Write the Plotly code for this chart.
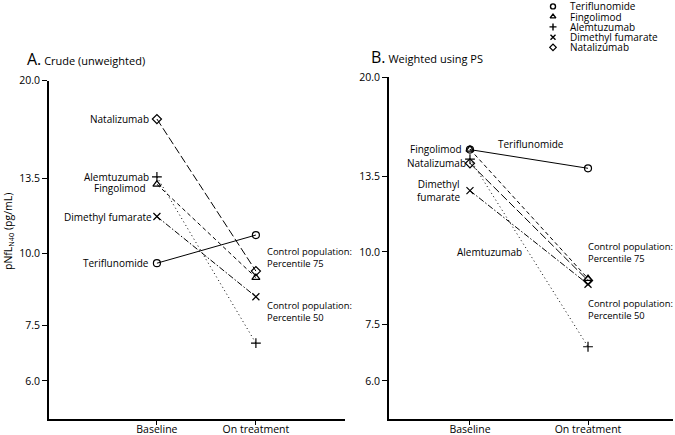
import math
import plotly.graph_objects as go

# ---------------- data ----------------
timepoints = ["Baseline", "On treatment"]
treatments = ["Teriflunomide", "Fingolimod", "Alemtuzumab", "Dimethyl fumarate", "Natalizumab"]

crude_baseline = [9.62, 13.2, 13.6, 11.6, 17.15]
crude_on_treatment = [10.77, 9.08, 6.98, 8.41, 9.32]

weighted_baseline = [15.0, 15.02, 14.45, 12.75, 14.21]
weighted_on_treatment = [13.93, 9.0, 6.87, 8.8, 8.93]

control_percentile_75 = 9.27
control_percentile_50 = 7.5

y_tick_values = [6.0, 7.5, 10.0, 13.5, 20.0]
y_tick_labels = ["6.0", "7.5", "10.0", "13.5", "20.0"]

# ---------------- style ----------------
W, H = 675, 435
FONT = "Open Sans"
symbols = ["circle-open", "triangle-up-open", "cross-thin-open", "x-thin-open", "diamond-open"]
dashes = ["solid", "4px,3px", "1px,3px", "6px,2px,1.5px,2px", "8px,3px"]


def fx(p):
    return p / W


def fy(p):
    return 1 - p / H


def lg(v):
    return math.log10(v)


fig = go.Figure()

panels = [
    dict(xa="x", ya="y", base=crude_baseline, ot=crude_on_treatment),
    dict(xa="x2", ya="y2", base=weighted_baseline, ot=weighted_on_treatment),
]
for p in panels:
    for i, name in enumerate(treatments):
        fig.add_trace(go.Scatter(
            x=timepoints, y=[p["base"][i], p["ot"][i]],
            xaxis=p["xa"], yaxis=p["ya"], name=name,
            mode="lines+markers",
            line=dict(color="black", width=1, dash=dashes[i]),
            marker=dict(symbol=symbols[i], size=7, color="black",
                        line=dict(width=1.2, color="black")),
            showlegend=False,
        ))

# legend as marker column on its own axis
fig.add_trace(go.Scatter(
    x=[0] * len(treatments), y=treatments, xaxis="x3", yaxis="y3",
    mode="markers",
    marker=dict(symbol=symbols, size=5, color="black", line=dict(width=1.4, color="black")),
    showlegend=False, hoverinfo="skip",
))

axis_common = dict(showline=True, linecolor="black", linewidth=1.8, ticks="outside",
                   tickwidth=1, tickcolor="black", showgrid=False, zeroline=False,
                   automargin=False,
                   tickfont=dict(family=FONT, size=10.5, color="black"))

fig.update_layout(
    width=W, height=H,
    margin=dict(l=0, r=0, t=0, b=0, pad=0, autoexpand=False),
    plot_bgcolor="white", paper_bgcolor="white",
    font=dict(family=FONT, size=10, color="black"),
    showlegend=False,
    xaxis=dict(domain=[fx(49), fx(345)], type="category", categoryarray=timepoints,
               range=[-1.09, 1.9], anchor="y", ticklen=4, ticklabelstandoff=-5,
               **axis_common),
    yaxis=dict(domain=[fy(419), fy(80.7)], type="log", range=[lg(5.15), lg(20)],
               tickvals=y_tick_values, ticktext=y_tick_labels, anchor="x", ticklen=5,
               **axis_common),
    xaxis2=dict(domain=[fx(389), fx(673)], type="category", categoryarray=timepoints,
                range=[-0.686, 1.72], anchor="y2", ticklen=4, ticklabelstandoff=-5,
                **axis_common),
    yaxis2=dict(domain=[fy(419), fy(77)], type="log", range=[lg(5.16), lg(20)],
                tickvals=y_tick_values, ticktext=y_tick_labels, anchor="x2", ticklen=5,
                **axis_common),
    xaxis3=dict(domain=[fx(549), fx(557)], range=[-1, 1], visible=False, anchor="y3",
                automargin=False),
    yaxis3=dict(domain=[fy(52.5), fy(1.3)], type="category", categoryarray=treatments,
                range=[len(treatments) - 0.5, -0.5], visible=False, anchor="x3",
                automargin=False),
)

shapes = []
for xa, ya, s_dot, e_dot, s_sol, e_sol in [("x", "y", 0.027, 0.905, 0.0, 0.902),
                                          ("x2", "y2", 0.021, 0.937, 0.0, 0.947)]:
    shapes.append(dict(type="line", xref=xa + " domain", yref=ya, x0=s_dot, x1=e_dot,
                       y0=lg(control_percentile_75), y1=lg(control_percentile_75),
                       line=dict(color="black", width=2.2, dash="2px,8px")))
    shapes.append(dict(type="line", xref=xa + " domain", yref=ya, x0=s_sol, x1=e_sol,
                       y0=lg(control_percentile_50), y1=lg(control_percentile_50),
                       line=dict(color="black", width=2)))
fig.update_layout(shapes=shapes)

ann = []
lab_font = dict(family=FONT, size=10, color="black")
ctl_font = dict(family=FONT, size=9.4, color="black")

# panel A point labels at baseline
offs_a = {"Teriflunomide": (-6, 0), "Fingolimod": (-9, -4), "Alemtuzumab": (-6, 0),
          "Dimethyl fumarate": (-3, 0), "Natalizumab": (-6, 0)}
for i, name in enumerate(treatments):
    dx, dy = offs_a[name]
    ann.append(dict(xref="x", yref="y", x=0, y=lg(crude_baseline[i]), text=name,
                    xanchor="right", yanchor="middle", xshift=dx, yshift=dy,
                    showarrow=False, font=lab_font))

# panel B point labels
offs_b = {"Fingolimod": (-6, 0), "Natalizumab": (-2, 0), "Dimethyl fumarate": (-7, 0)}
for i, name in enumerate(treatments):
    if name not in offs_b:
        continue
    dx, dy = offs_b[name]
    txt = "Dimethyl<br>fumarate" if name == "Dimethyl fumarate" else name
    ann.append(dict(xref="x2", yref="y2", x=0, y=lg(weighted_baseline[i]), text=txt,
                    xanchor="right", yanchor="middle", xshift=dx, yshift=dy, align="center",
                    showarrow=False, font=lab_font))
ann.append(dict(xref="paper", yref="paper", x=fx(531), y=fy(144), text="Teriflunomide",
                xanchor="center", yanchor="middle", showarrow=False, font=lab_font))
ann.append(dict(xref="paper", yref="paper", x=fx(489), y=fy(252), text="Alemtuzumab",
                xanchor="center", yanchor="middle", showarrow=False, font=lab_font))

# control population labels
for xa, ya, dx, dy75, dy50 in [("x", "y", 9, 15, 14), ("x2", "y2", -2, 18.5, 15)]:
    ann.append(dict(xref=xa, yref=ya, x=1, y=lg(control_percentile_75),
                    text="Control population:<br>Percentile 75", xanchor="left", yanchor="middle",
                    align="left", xshift=dx, yshift=dy75, showarrow=False, font=ctl_font))
    ann.append(dict(xref=xa, yref=ya, x=1, y=lg(control_percentile_50),
                    text="Control population:<br>Percentile 50", xanchor="left", yanchor="middle",
                    align="left", xshift=dx, yshift=dy50, showarrow=False, font=ctl_font))

# panel titles
ann.append(dict(xref="paper", yref="paper", x=fx(25), y=fy(59),
                text="<span style='font-size:16px'>A.</span> Crude (unweighted)",
                xanchor="left", yanchor="middle", showarrow=False,
                font=dict(family=FONT, size=11, color="black")))
ann.append(dict(xref="paper", yref="paper", x=fx(369), y=fy(57),
                text="<span style='font-size:16px'>B.</span> Weighted using PS",
                xanchor="left", yanchor="middle", showarrow=False,
                font=dict(family=FONT, size=11, color="black")))

# y-axis title
ann.append(dict(xref="paper", yref="paper", x=fx(8), y=fy(232),
                text="pNfL<sub>N40</sub> (pg/mL)", textangle=-90,
                xanchor="center", yanchor="middle", showarrow=False,
                font=dict(family=FONT, size=10.5, color="black")))

# legend texts
for name in treatments:
    ann.append(dict(xref="x3", yref="y3", x=0, y=name, text=name, xanchor="left",
                    yanchor="middle", xshift=15, showarrow=False,
                    font=dict(family=FONT, size=10, color="black")))

fig.update_layout(annotations=ann)

fig.write_html(
    "out.html",
    config={"displayModeBar": False},
    post_script="document.body.style.margin='0';document.body.style.overflow='hidden';",
)
